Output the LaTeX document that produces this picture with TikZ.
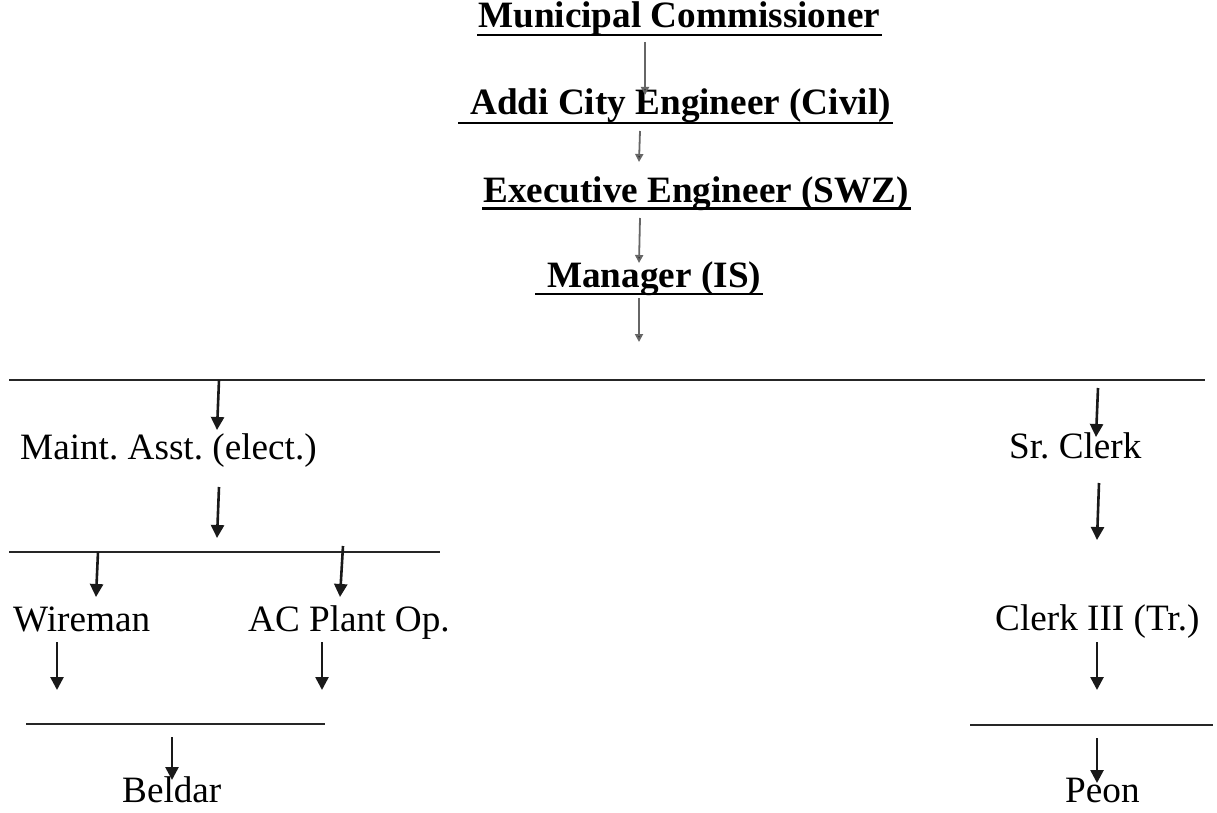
\documentclass[tikz,border=0pt]{standalone}
\usepackage{fontspec}
\setmainfont{Liberation Serif}
\usetikzlibrary{arrows.meta,calc}
\frenchspacing
\tikzset{
  lab/.style={inner sep=0pt, anchor=base west, font=\fontsize{37.2}{41}\selectfont},
  blab/.style={lab, font=\fontsize{37.2}{41}\selectfont\bfseries},
  uline/.style={line width=2.8pt, black},
  hbar/.style={line width=1.6pt, black!85},
  thinarrow/.style={line width=1.8pt, black!60, -{Triangle[length=8pt,width=8pt,fill=black!80]}},
  bigarrow/.style={line width=2.6pt, black!90, -{Triangle[length=13pt,width=13pt]}}
}
\begin{document}
\begin{tikzpicture}[x=1pt,y=-1pt]
\useasboundingbox (0,0) rectangle (1217,813);
% title chain
\node[blab] (mc) at (478,28) {Municipal Commissioner};
\node[blab] (addi) at (470,115) {Addi City Engineer (Civil)};
\node[blab] (exec) at (483,202) {Executive Engineer (SWZ)};
\node[blab] (mgr) at (547,287) {Manager (IS)};
\draw[uline] ($(mc.base west)+(-1,7)$) -- ($(mc.base east)+(2,7)$);
\draw[uline] ($(addi.base west)+(-12,8)$) -- ($(addi.base east)+(2,8)$);
\draw[uline] ($(exec.base west)+(-1,6.5)$) -- ($(exec.base east)+(2,6.5)$);
\draw[uline] ($(mgr.base west)+(-12,7)$) -- ($(mgr.base east)+(2,7)$);
% lower nodes
\node[lab] (maint) at (20,459) {Maint. Asst. (elect.)};
\node[lab] (sr) at (1009,458) {Sr. Clerk};
\node[lab] (wire) at (13,631) {Wireman};
\node[lab] (ac) at (248,631) {AC Plant Op.};
\node[lab] (clerk) at (995,630) {Clerk III (Tr.)};
\node[lab] (beldar) at (122,802) {Beldar};
\node[lab] (peon) at (1065,802) {Peon};
% horizontal bars
\coordinate (h1l) at (9,380); \coordinate (h1r) at (1205,380);
\coordinate (h2l) at (9,552); \coordinate (h2r) at (440,552);
\coordinate (h3l) at (26,724); \coordinate (h3r) at (325,724);
\coordinate (h4l) at (970,725); \coordinate (h4r) at (1213,725);
\draw[hbar] (h1l) -- (h1r);
\draw[hbar] (h2l) -- (h2r);
\draw[hbar] (h3l) -- (h3r);
\draw[hbar] (h4l) -- (h4r);
% thin arrows in the title chain
\coordinate (a1s) at (645,42);  \coordinate (a1e) at (645,95);
\coordinate (a2s) at (640,131); \coordinate (a2e) at (639,162);
\coordinate (a3s) at (640,218); \coordinate (a3e) at (639,263);
\coordinate (a4s) at (639,298); \coordinate (a4e) at (639,342);
\draw[thinarrow] (a1s) -- (a1e);
\draw[thinarrow] (a2s) -- (a2e);
\draw[thinarrow] (a3s) -- (a3e);
\draw[thinarrow] (a4s) -- (a4e);
% left branch arrows
\coordinate (b1s) at (219,380); \coordinate (b1e) at (217,430);
\coordinate (b2s) at (219,487); \coordinate (b2e) at (217,538);
\coordinate (b3s) at (98,552);  \coordinate (b3e) at (96,597);
\coordinate (b4s) at (343,546); \coordinate (b4e) at (340,597);
\coordinate (b5s) at (57,642);  \coordinate (b5e) at (57,690);
\coordinate (b6s) at (322,642); \coordinate (b6e) at (322,690);
\coordinate (b7s) at (172,737); \coordinate (b7e) at (172,780);
\draw[bigarrow] (b1s) -- (b1e);
\draw[bigarrow] (b2s) -- (b2e);
\draw[bigarrow] (b3s) -- (b3e);
\draw[bigarrow] (b4s) -- (b4e);
\draw[bigarrow] (b5s) -- (b5e);
\draw[bigarrow] (b6s) -- (b6e);
\draw[bigarrow] (b7s) -- (b7e);
% right branch arrows
\coordinate (c1s) at (1098,388); \coordinate (c1e) at (1096,437);
\coordinate (c2s) at (1099,483); \coordinate (c2e) at (1097,540);
\coordinate (c3s) at (1097,642); \coordinate (c3e) at (1097,690);
\coordinate (c4s) at (1097,738); \coordinate (c4e) at (1097,783);
\draw[bigarrow] (c1s) -- (c1e);
\draw[bigarrow] (c2s) -- (c2e);
\draw[bigarrow] (c3s) -- (c3e);
\draw[bigarrow] (c4s) -- (c4e);
\end{tikzpicture}
\end{document}
